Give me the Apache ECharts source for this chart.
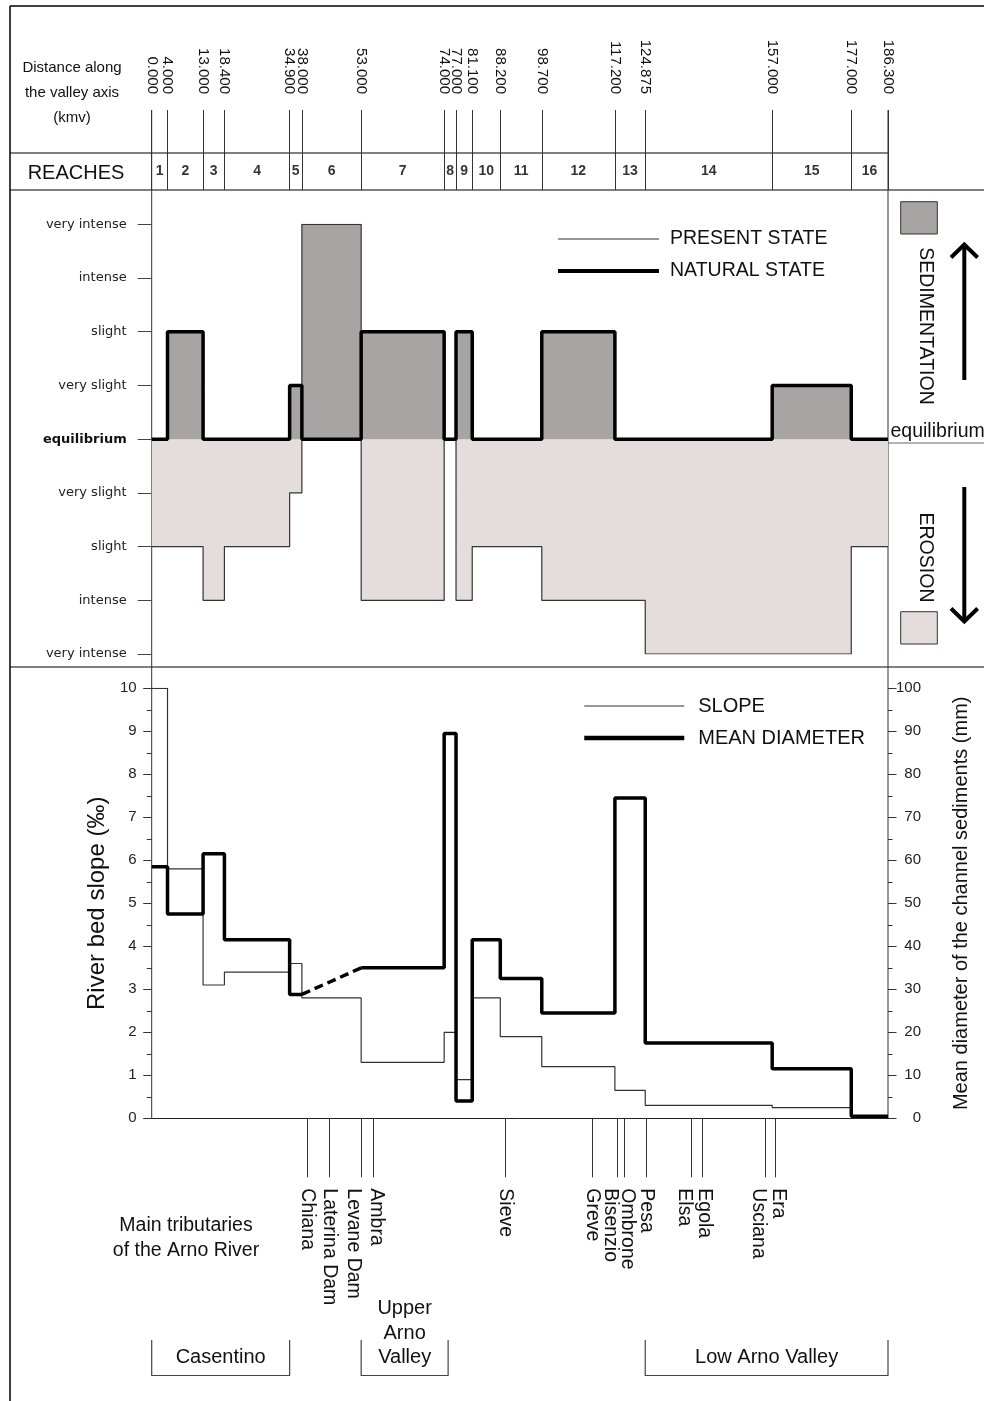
<!DOCTYPE html>
<html>
<head>
<meta charset="utf-8">
<script src="https://cdn.jsdelivr.net/npm/echarts@6/dist/echarts.min.js"></script>
<style>
  html, body { margin: 0; padding: 0; background: #fff; }
  #main { width: 984px; height: 1401px; }
</style>
</head>
<body>
<div id="main"></div>
<script>
// reach boundaries, km along the valley axis (kmv)
const boundaries = [0, 4, 13, 18.4, 34.9, 38, 53, 74, 77, 81.1, 88.2, 98.7, 117.2, 124.875, 157, 177, 186.3];
const reaches = ['1', '2', '3', '4', '5', '6', '7', '8', '9', '10', '11', '12', '13', '14', '15', '16'];

// sedimentation (+) / erosion (-) class for each reach
const intensityLabels = ['equilibrium', 'very slight', 'slight', 'intense', 'very intense'];
const presentState = [-2, -2, -3, -2, -1, 4, -3, 0, -3, -2, -2, -3, -3, -4, -4, -2];
const naturalState = [0, 2, 0, 0, 1, 0, 2, 0, 2, 0, 0, 2, 0, 0, 1, 0];

// river bed slope (per mille) and mean diameter (mm) for each reach, null = not measured
const slope = [10, 5.8, 3.1, 3.4, 3.6, 2.8, 1.3, 2.0, 0.9, 2.8, 1.9, 1.2, 0.65, 0.3, 0.25, 0.05];
const meanDiameter = [58.5, 47.5, 61.5, 41.5, 28.8, null, 35, 89.5, 4, 41.5, 32.5, 24.5, 74.5, 17.5, 11.5, 0.5];

// main tributaries (km)
const tributaries = ['Chiana', 'Laterina Dam', 'Levane Dam', 'Ambra', 'Sieve', 'Greve', 'Bisenzio', 'Ombrone', 'Pesa', 'Elsa', 'Egola', 'Usciana', 'Era'];
const tributaryKm = [39.3, 44.9, 52.9, 56.1, 89.4, 111.4, 117.7, 119.6, 125.1, 136.5, 139.2, 155.2, 157.7];

// valley sections
const regions = ['Casentino', 'Upper\nArno\nValley', 'Low Arno Valley'];
const regionFrom = [0, 53, 124.875];
const regionTo = [34.9, 75, 186.3];

const FONT = 'Liberation Sans';
const SED = '#a9a4a4';
const ERO = '#e5dcdc';
const INK = '#111';
const LINE = '#333';

var chartDom = document.getElementById('main');
var myChart = echarts.init(chartDom);
var option;

// one value per reach -> step polyline points
function steps(values) {
  const pts = [];
  values.forEach((v, i) => {
    if (v === null) {
      pts.push([boundaries[i], '-']);
      return;
    }
    pts.push([boundaries[i], v], [boundaries[i + 1], v]);
  });
  return pts;
}

// dashed bridge over missing reaches
const bridge = [];
meanDiameter.forEach((v, i) => {
  if (v === null && i > 0 && i < meanDiameter.length - 1) {
    bridge.push([boundaries[i], meanDiameter[i - 1]], [boundaries[i + 1], meanDiameter[i + 1]]);
  }
});

// tributary labels that sit very close together are pushed apart a little
function tributaryLabel(v) {
  const i = tributaryKm.indexOf(v);
  const name = tributaries[i];
  if (i < tributaryKm.length - 1 && tributaryKm[i + 1] - v < 3.5) return '{l|' + name + '}';
  if (i > 0 && v - tributaryKm[i - 1] < 3.5) return '{r|' + name + '}';
  return '{n|' + name + '}';
}

const X0 = 151.7;
const X1 = 888;
const gridPos = (top, height) => ({ left: X0, right: 984 - X1, top: top, height: height, outerBoundsMode: 'none' });
const hiddenX = (g) => ({ type: 'value', gridIndex: g, min: 0, max: 186.3, show: false });

function hline(x1, y, x2, w, c) {
  return { type: 'line', silent: true, shape: { x1: x1, y1: y, x2: x2, y2: y }, style: { stroke: c || '#000', lineWidth: w || 1 } };
}
function vline(x, y1, y2, w, c) {
  return { type: 'line', silent: true, shape: { x1: x, y1: y1, x2: x, y2: y2 }, style: { stroke: c || '#000', lineWidth: w || 1 } };
}
function text(t, x, y, size, extra) {
  return Object.assign({
    type: 'text', silent: true, x: x, y: y,
    style: Object.assign({ text: t, fontSize: size, fontFamily: FONT, fill: INK, align: 'center', verticalAlign: 'middle', textAlign: 'center', textVerticalAlign: 'middle' }, (extra && extra.style) || {})
  }, extra && extra.rotation !== undefined ? { rotation: extra.rotation } : {});
}

const tribText = { fontSize: 19.5, fontFamily: FONT, color: INK };

option = {
  animation: false,
  backgroundColor: '#fff',
  textStyle: { fontFamily: FONT, color: INK },
  grid: [
    gridPos(110, 80),     // distance ticks
    gridPos(153, 37),     // reaches row
    gridPos(224.3, 429.7), // sedimentation / erosion
    gridPos(688.3, 430)   // slope & diameter
  ],
  legend: [
    {
      data: [
        { name: 'PRESENT STATE', lineStyle: { width: 1.2, color: LINE } },
        { name: 'NATURAL STATE', lineStyle: { width: 4, color: '#000' } }
      ],
      orient: 'vertical', left: 556, top: 229, padding: 0,
      itemWidth: 101, itemHeight: 14, itemGap: 12,
      itemStyle: { opacity: 0 },
      textStyle: { fontSize: 19.5, color: INK, lineHeight: 20, padding: [0, 0, 0, 6] }
    },
    {
      data: [
        { name: 'SLOPE', lineStyle: { width: 1.2, color: LINE } },
        { name: 'MEAN DIAMETER', lineStyle: { width: 4.5, color: '#000' } }
      ],
      orient: 'vertical', left: 582, top: 696, padding: 0,
      itemWidth: 100, itemHeight: 14, itemGap: 12,
      itemStyle: { opacity: 0 },
      textStyle: { fontSize: 20, color: INK, lineHeight: 20, padding: [0, 0, 0, 9] }
    }
  ],
  xAxis: [
    {
      type: 'value', gridIndex: 0, min: 0, max: 186.3, position: 'top',
      axisLine: { show: false, onZero: false },
      splitLine: { show: false },
      axisTick: { show: true, inside: true, length: 80, customValues: boundaries, lineStyle: { color: LINE, width: 1 } },
      axisLabel: {
        show: true, customValues: boundaries, rotate: 90, margin: 16,
        showMinLabel: true, showMaxLabel: true,
        fontSize: 15, color: INK, formatter: (v) => v.toFixed(3)
      }
    },
    hiddenX(1),
    hiddenX(2),
    {
      type: 'value', gridIndex: 3, min: 0, max: 186.3, position: 'bottom',
      axisLine: { show: true, onZero: false, lineStyle: { color: '#222', width: 1 } },
      splitLine: { show: false },
      axisTick: { show: true, length: 59, customValues: tributaryKm, lineStyle: { color: LINE, width: 1 } },
      axisLabel: {
        show: true, customValues: tributaryKm, rotate: -90, margin: 70,
        showMinLabel: true, showMaxLabel: true,
        fontSize: 19.5, color: INK,
        formatter: tributaryLabel,
        rich: {
          n: tribText,
          l: Object.assign({ padding: [14, 0, 0, 0] }, tribText),
          r: Object.assign({ padding: [0, 0, 6, 0] }, tribText)
        }
      }
    }
  ],
  yAxis: [
    { type: 'value', gridIndex: 0, min: 0, max: 1, show: false },
    { type: 'value', gridIndex: 1, min: 0, max: 1, show: false },
    {
      type: 'value', gridIndex: 2, min: -4, max: 4, interval: 1,
      axisLine: { show: false },
      splitLine: { show: false },
      axisTick: { show: true, length: 14, lineStyle: { color: '#444' } },
      axisLabel: {
        margin: 25, fontSize: 13, fontFamily: 'DejaVu Sans', color: '#222',
        formatter: (v) => (v === 0 ? '{b|' + intensityLabels[0] + '}' : intensityLabels[Math.abs(v)]),
        rich: { b: { fontWeight: 'bold', fontSize: 13, fontFamily: 'DejaVu Sans', color: '#111' } }
      }
    },
    {
      type: 'value', gridIndex: 3, min: 0, max: 10, interval: 1, position: 'left',
      name: 'River bed slope (‰)', nameLocation: 'middle', nameRotate: 90, nameGap: 42,
      nameTextStyle: { fontSize: 24, color: INK, fontFamily: FONT },
      axisLine: { show: false },
      splitLine: { show: false },
      axisTick: { show: true, length: 8.5, lineStyle: { color: LINE } },
      minorTick: { show: true, splitNumber: 2, length: 5, lineStyle: { color: LINE } },
      minorSplitLine: { show: false },
      axisLabel: { margin: 15, fontSize: 15, color: '#222' }
    },
    {
      type: 'value', gridIndex: 3, min: 0, max: 100, interval: 10, position: 'right',
      name: 'Mean diameter of the channel sediments (mm)', nameLocation: 'middle', nameRotate: 90, nameGap: 63,
      nameTextStyle: { fontSize: 20, color: INK, fontFamily: FONT },
      axisLine: { show: false },
      splitLine: { show: false },
      axisTick: { show: true, length: 8.5, lineStyle: { color: LINE } },
      minorTick: { show: true, splitNumber: 2, length: 4.5, lineStyle: { color: LINE } },
      minorSplitLine: { show: false },
      axisLabel: { margin: 33, align: 'right', fontSize: 15, color: '#222' }
    }
  ],
  series: [
    // reach numbers
    {
      type: 'scatter', xAxisIndex: 1, yAxisIndex: 1, silent: true,
      symbolSize: 1, itemStyle: { color: 'rgba(0,0,0,0)' },
      data: reaches.map((r, i) => [(boundaries[i] + boundaries[i + 1]) / 2, 0.5, r]),
      label: { show: true, position: 'inside', formatter: (p) => p.data[2], fontSize: 14, fontWeight: 'bold', color: '#000' }
    },
    // erosion (present state)
    {
      type: 'line', xAxisIndex: 2, yAxisIndex: 2, symbol: 'none', silent: true,
      data: steps(presentState.map((v) => Math.min(v, 0))),
      lineStyle: { width: 0 }, areaStyle: { color: ERO, opacity: 1 }
    },
    // sedimentation (present state)
    {
      type: 'line', xAxisIndex: 2, yAxisIndex: 2, symbol: 'none', silent: true,
      data: steps(presentState.map((v) => Math.max(v, 0))),
      lineStyle: { width: 0 }, areaStyle: { color: SED, opacity: 1 }
    },
    // sedimentation (natural state)
    {
      type: 'line', xAxisIndex: 2, yAxisIndex: 2, symbol: 'none', silent: true,
      data: steps(naturalState),
      lineStyle: { width: 0 }, areaStyle: { color: SED, opacity: 1 }
    },
    {
      name: 'PRESENT STATE', type: 'line', xAxisIndex: 2, yAxisIndex: 2, symbol: 'none', silent: true,
      data: steps(presentState),
      lineStyle: { color: LINE, width: 1.2 }, itemStyle: { color: LINE }
    },
    {
      name: 'NATURAL STATE', type: 'line', xAxisIndex: 2, yAxisIndex: 2, symbol: 'none', silent: true,
      data: steps(naturalState),
      lineStyle: { color: '#000', width: 3.5 }, itemStyle: { color: '#000' }
    },
    // bottom panel
    {
      name: 'SLOPE', type: 'line', xAxisIndex: 3, yAxisIndex: 3, symbol: 'none', silent: true,
      data: steps(slope),
      lineStyle: { color: LINE, width: 1.2 }, itemStyle: { color: LINE }
    },
    {
      name: 'MEAN DIAMETER', type: 'line', xAxisIndex: 3, yAxisIndex: 4, symbol: 'none', silent: true,
      data: steps(meanDiameter), connectNulls: false,
      lineStyle: { color: '#000', width: 3.5 }, itemStyle: { color: '#000' }
    },
    {
      name: 'diameter gap', type: 'line', xAxisIndex: 3, yAxisIndex: 4, symbol: 'none', silent: true,
      data: bridge,
      lineStyle: { color: '#000', width: 3.5, type: [9, 5] }
    },
    // valley section brackets
    {
      type: 'custom', xAxisIndex: 3, yAxisIndex: 3, clip: false, silent: true,
      data: regions.map((n, i) => [regionFrom[i], regionTo[i]]),
      encode: { x: [0, 1] },
      renderItem: function (params, api) {
        const xa = api.coord([api.value(0), 0])[0];
        const xb = api.coord([api.value(1), 0])[0];
        return {
          type: 'group',
          children: [
            {
              type: 'polyline',
              shape: { points: [[xa, 1340], [xa, 1375.5], [xb, 1375.5], [xb, 1340]] },
              style: { stroke: '#444', lineWidth: 1.2, fill: 'none' }
            },
            {
              type: 'text', x: (xa + xb) / 2, y: 1370,
              style: {
                text: regions[params.dataIndex], fontSize: 20, fontFamily: FONT, fill: INK,
                align: 'center', verticalAlign: 'bottom', lineHeight: 24.5
              }
            }
          ]
        };
      }
    }
  ],
  graphic: [
    // frame
    hline(10, 6, 984, 1.5),
    vline(10, 6, 1401, 1.5),
    hline(10, 153, X1, 1.2),
    hline(10, 190, 984, 1.2),
    hline(10, 667, 984, 1.2),
    vline(X0, 110, 1118, 1, LINE),
    vline(X1, 110, 1118, 1, LINE),
    hline(X1, 443, 984, 1, '#666'),
    // header texts
    text('Distance along', 72, 68, 15),
    text('the valley axis', 72, 93, 15),
    text('(kmv)', 72, 118, 15),
    text('REACHES', 76, 173, 20),
    // right-hand key
    { type: 'rect', silent: true, shape: { x: 900.7, y: 201.7, width: 36.6, height: 32.3 }, style: { fill: SED, stroke: LINE, lineWidth: 1 } },
    { type: 'rect', silent: true, shape: { x: 900.7, y: 611.7, width: 36.6, height: 32.3 }, style: { fill: ERO, stroke: LINE, lineWidth: 1 } },
    text('SEDIMENTATION', 925, 326, 19.5, { rotation: -Math.PI / 2 }),
    text('EROSION', 925, 557.5, 19.5, { rotation: -Math.PI / 2 }),
    text('equilibrium', 890.5, 432, 19.5, { style: { align: 'left', textAlign: 'left' } }),
    vline(964.3, 380, 246, 4),
    { type: 'polyline', silent: true, shape: { points: [[951, 257.5], [964.3, 244.5], [977.6, 257.5]] }, style: { stroke: '#000', lineWidth: 4, fill: 'none' } },
    vline(964.3, 487, 620, 4),
    { type: 'polyline', silent: true, shape: { points: [[951, 608.5], [964.3, 621.5], [977.6, 608.5]] }, style: { stroke: '#000', lineWidth: 4, fill: 'none' } },
    // tributaries caption
    text('Main tributaries', 186, 1226, 19.5),
    text('of the Arno River', 186, 1251, 19.5)
  ]
};

option && myChart.setOption(option);
</script>
</body>
</html>
